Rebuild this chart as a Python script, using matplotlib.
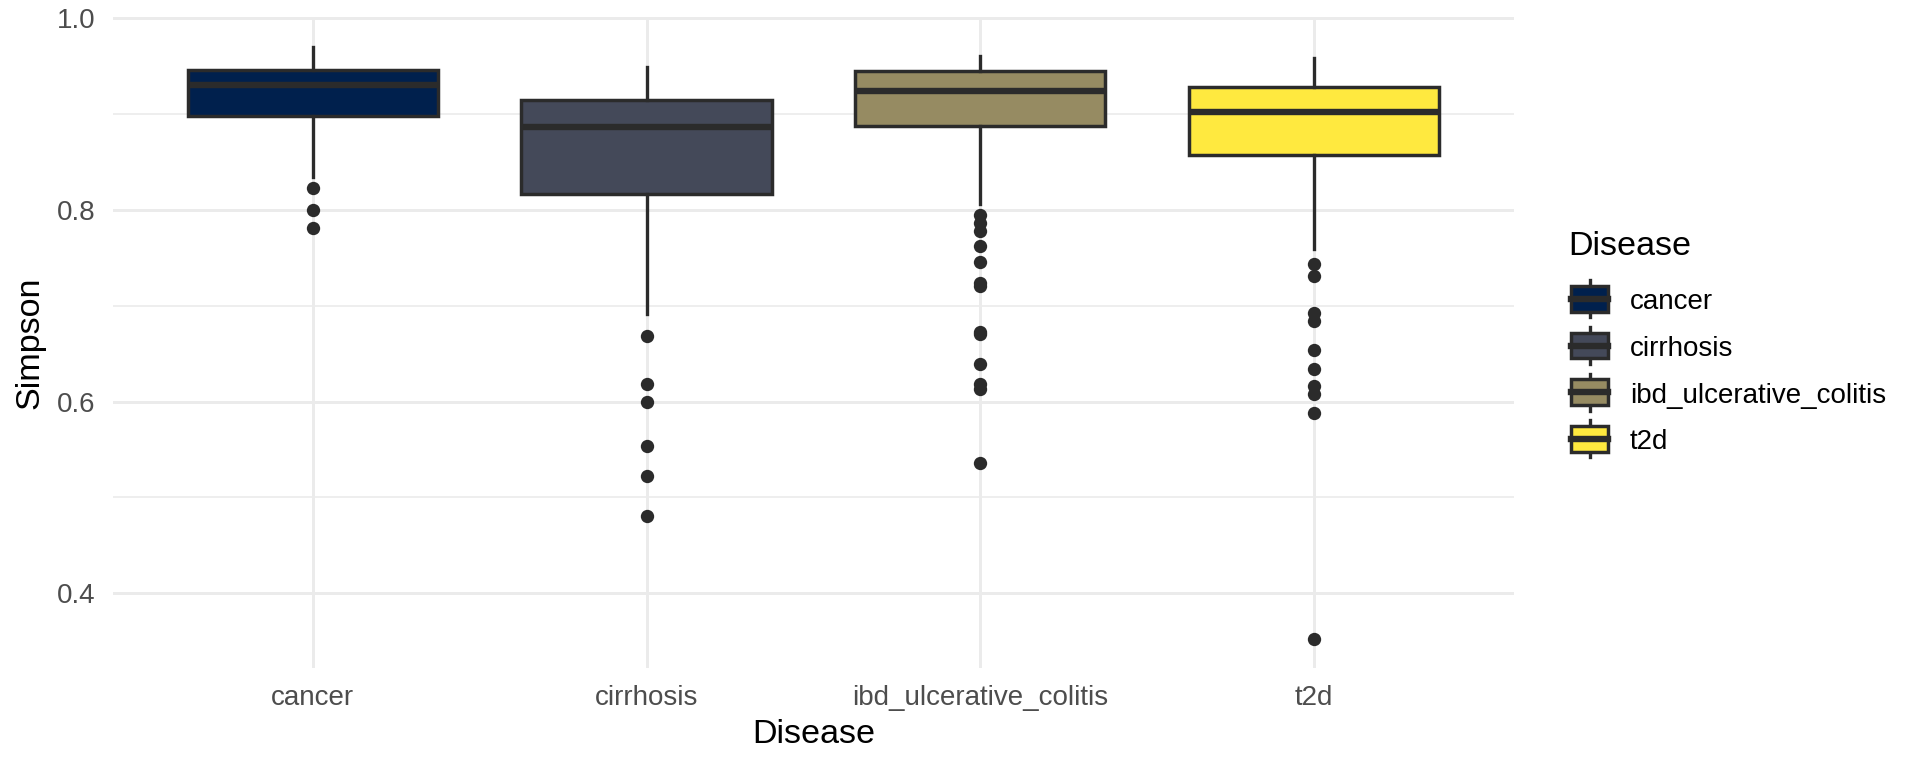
import matplotlib
matplotlib.use("Agg")
import matplotlib.pyplot as plt
from matplotlib.patches import Rectangle
from matplotlib.ticker import MultipleLocator, FormatStrFormatter

plt.rcParams['font.family'] = ['Liberation Sans', 'DejaVu Sans']

# values
diseases = ['cancer', 'cirrhosis', 'ibd_ulcerative_colitis', 't2d']
fill_colors = ['#00204D', '#444959', '#968B62', '#FFE93F']
whisker_low = [0.834, 0.691, 0.806, 0.759]
q1 = [0.898, 0.817, 0.888, 0.857]
median = [0.930, 0.886, 0.924, 0.902]
q3 = [0.946, 0.915, 0.945, 0.928]
whisker_high = [0.970, 0.9495, 0.961, 0.958]
out_cancer = [0.823, 0.800, 0.781]
out_cirrhosis = [0.668, 0.618, 0.600, 0.554, 0.522, 0.481]
out_ibd = [0.795, 0.786, 0.7785, 0.762, 0.746, 0.7237, 0.7203, 0.673, 0.670,
           0.639, 0.618, 0.6135, 0.5355]
out_t2d = [0.744, 0.7314, 0.6925, 0.684, 0.654, 0.634, 0.6163, 0.6076,
           0.588, 0.352]
outliers = [out_cancer, out_cirrhosis, out_ibd, out_t2d]

line_col = '#2b2b2b'

stats = []
for i, d in enumerate(diseases):
    stats.append(dict(label=d, whislo=whisker_low[i], q1=q1[i], med=median[i],
                      q3=q3[i], whishi=whisker_high[i], fliers=outliers[i]))

fig = plt.figure(figsize=(9.6, 3.84), dpi=200)
ax = fig.add_axes([0.0586, 0.1302, 0.7301, 0.8473])

bp = ax.bxp(stats, positions=range(len(diseases)), widths=0.75,
            patch_artist=True, showcaps=False,
            boxprops=dict(edgecolor=line_col, linewidth=1.25),
            whiskerprops=dict(color=line_col, linewidth=1.2),
            medianprops=dict(color=line_col, linewidth=2.3),
            flierprops=dict(marker='o', markersize=4.8, markerfacecolor=line_col,
                            markeredgecolor='none', linestyle='none'))
for patch, c in zip(bp['boxes'], fill_colors):
    patch.set_facecolor(c)

ax.set_xlim(-0.6, len(diseases) - 0.4)
ax.set_ylim(0.322, 1.001)
ax.yaxis.set_major_locator(MultipleLocator(0.2))
ax.yaxis.set_minor_locator(MultipleLocator(0.1))
ax.yaxis.set_major_formatter(FormatStrFormatter('%.1f'))
ax.set_axisbelow(True)
ax.grid(which='major', color='#ebebeb', linewidth=1.05)
ax.grid(which='minor', axis='y', color='#ebebeb', linewidth=0.6)
for s in ax.spines.values():
    s.set_visible(False)
ax.tick_params(which='both', length=0, pad=6.2, labelsize=10, labelcolor='#4d4d4d')
ax.set_xlabel('Disease', fontsize=12.3, labelpad=2.9)
ax.set_ylabel('Simpson', fontsize=12.3, labelpad=4)

# legend drawn in pixel space
leg = fig.add_axes([0, 0, 1, 1], facecolor='none')
leg.set_xlim(0, 1920)
leg.set_ylim(768, 0)
leg.axis('off')
leg.text(1568, 255, 'Disease', fontsize=12.3, va='baseline', ha='left')
for i, (d, c) in enumerate(zip(diseases, fill_colors)):
    cy = 298.8 + i * 46.7
    leg.plot([1589.5, 1589.5], [cy - 18.5, cy + 18.5], color=line_col, lw=1.2)
    leg.add_patch(Rectangle((1571, cy - 12.8), 37, 25.6, facecolor=c,
                            edgecolor=line_col, lw=1.25, zorder=3))
    leg.plot([1571, 1608], [cy, cy], color=line_col, lw=2.3, zorder=4)
    leg.text(1630, cy + 10.5, d, fontsize=10, va='baseline', ha='left')

fig.savefig('out.png', dpi=200)
